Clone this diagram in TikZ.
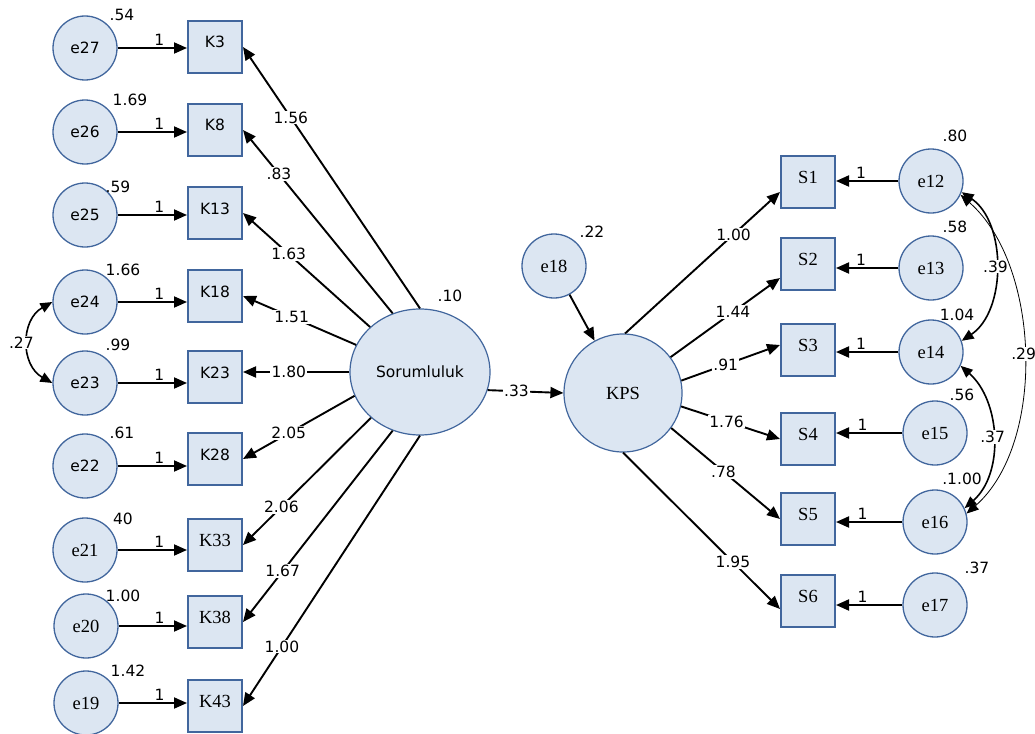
\documentclass[tikz,border=0pt]{standalone}
\usepackage{fontspec}
\setmainfont{DejaVu Sans}
\newfontfamily\tnr{Liberation Serif}
\usetikzlibrary{arrows.meta,shapes.geometric}
\newcommand\myfs{\fontsize{15.5}{18}\selectfont}
\newcommand\myserif{\fontsize{18.5}{21}\selectfont\tnr}
\definecolor{nfill}{HTML}{DCE6F2}
\definecolor{nborder}{HTML}{41669D}
\tikzset{
  errc/.style={circle, draw=nborder, fill=nfill, line width=1.3pt, minimum size=64pt, inner sep=0pt, font=\myfs},
  errs/.style={errc, font=\myserif},
  obox/.style={rectangle, draw=nborder, fill=nfill, line width=2pt, minimum width=54pt, minimum height=52pt, inner sep=0pt, text height=12pt, text depth=10pt, font=\myfs},
  sbox/.style={obox, font=\myserif},
  arr/.style={-{Triangle[length=13pt,width=11pt]}, line width=1.9pt, black},
  darr/.style={{Triangle[length=12pt,width=10pt]}-{Triangle[length=12pt,width=10pt]}, line width=1.6pt, black},
  lab/.style={fill=white, inner sep=1pt, font=\myfs},
  one/.style={above, inner sep=1.5pt, font=\myfs},
  var/.style={inner sep=0pt, font=\myfs}
}
\begin{document}
\begin{tikzpicture}[x=1pt,y=-1pt]
\useasboundingbox[fill=white] (0,0) rectangle (1035,733);
% left error terms
\node[errc] (e27) at (85,48) {e27};
\node[errc] (e26) at (85,132) {e26};
\node[errc] (e25) at (85,215) {e25};
\node[errc] (e24) at (85,302) {e24};
\node[errc] (e23) at (85,383) {e23};
\node[errc] (e22) at (85,466) {e22};
\node[errs] (e21) at (85,550) {e21};
\node[errs] (e20) at (86,626) {e20};
\node[errs] (e19) at (86,703) {e19};
% K boxes
\node[obox] (K3) at (215,47) {K3};
\node[obox] (K8) at (215,130) {K8};
\node[obox] (K13) at (215,213) {K13};
\node[obox] (K18) at (215,296) {K18};
\node[obox] (K23) at (215,377) {K23};
\node[obox] (K28) at (215,459) {K28};
\node[sbox] (K33) at (215,545) {K33};
\node[sbox] (K38) at (215,622) {K38};
\node[sbox] (K43) at (215,706) {K43};
% latent
\node[ellipse, draw=nborder, fill=nfill, line width=1.2pt, minimum width=140pt, minimum height=126pt, inner sep=0pt, font=\myfs] (Sor) at (420,372) {Sorumluluk};
\node[circle, draw=nborder, fill=nfill, line width=1.2pt, minimum size=118pt, inner sep=0pt, font=\myserif] (KPS) at (623,393) {KPS};
\node[errs] (e18) at (554,266) {e18};
% S boxes
\node[sbox] (S1) at (808,182) {S1};
\node[sbox] (S2) at (808,264) {S2};
\node[sbox] (S3) at (808,350) {S3};
\node[sbox] (S4) at (808,439) {S4};
\node[sbox] (S5) at (808,519) {S5};
\node[sbox] (S6) at (808,601) {S6};
% right errors
\node[errs] (e12) at (931,181) {e12};
\node[errs] (e13) at (931,268) {e13};
\node[errs] (e14) at (931,352) {e14};
\node[errs] (e15) at (935,433) {e15};
\node[errs] (e16) at (935,522) {e16};
\node[errs] (e17) at (935,605) {e17};
% variances
\node[var] (v27) at (122,15) {.54};
\node[var] (v26) at (130,100) {1.69};
\node[var] (v25) at (118,187) {.59};
\node[var] (v24) at (123,270) {1.66};
\node[var] (v23) at (118,345) {.99};
\node[var] (v22) at (122,433) {.61};
\node[var] (v21) at (123,519) {40};
\node[var] (v20) at (123,596) {1.00};
\node[var] (v19) at (128,671) {1.42};
\node[var] (vS) at (450,296) {.10};
\node[var] (v18) at (592,232) {.22};
\node[var] (v12) at (955,136) {.80};
\node[var] (v13) at (955,227) {.58};
\node[var] (v14) at (957,315) {1.04};
\node[var] (v15) at (962,395) {.56};
\node[var] (v16) at (962,479) {.1.00};
\node[var] (v17) at (977,568) {.37};
% error -> K
\draw[arr] (e27.east) -- node[one,pos=0.6]{1} (e27.east -| K3.west);
\draw[arr] (e26.east) -- node[one,pos=0.6]{1} (e26.east -| K8.west);
\draw[arr] (e25.east) -- node[one,pos=0.6]{1} (e25.east -| K13.west);
\draw[arr] (e24.east) -- node[one,pos=0.6]{1} (e24.east -| K18.west);
\draw[arr] (e23.east) -- node[one,pos=0.6]{1} (e23.east -| K23.west);
\draw[arr] (e22.east) -- node[one,pos=0.6]{1} (e22.east -| K28.west);
\draw[arr] (e21.east) -- node[one,pos=0.6]{1} (e21.east -| K33.west);
\draw[arr] (e20.east) -- node[one,pos=0.6]{1} (e20.east -| K38.west);
\draw[arr] (e19.east) -- node[one,pos=0.6]{1} (e19.east -| K43.west);
% Sorumluluk -> K
\draw[arr] (Sor.90) -- node[lab,pos=0.73]{1.56} (K3.east);
\draw[arr] (Sor.115) -- node[lab,pos=0.76]{.83} (K8.east);
\draw[arr] (Sor.138) -- node[lab,pos=0.64]{1.63} (K13.east);
\draw[arr] (Sor.157) -- node[lab,pos=0.57]{1.51} (K18.east);
\draw[arr] (Sor.west) -- node[lab,pos=0.57]{1.80} (Sor.west -| K23.east);
\draw[arr] (Sor.200) -- node[lab,pos=0.59]{2.05} (K28.east);
\draw[arr] (Sor.223) -- node[lab,pos=0.70]{2.06} (K33.east);
\draw[arr] (Sor.245) -- node[lab,pos=0.735]{1.67} (K38.east);
\draw[arr] (Sor.270) -- node[lab,pos=0.78]{1.00} (K43.east);
% structural
\draw[arr] (Sor.-15) -- node[lab,pos=0.38]{.33} (KPS.west);
\draw[arr] (e18) -- (KPS);
% KPS -> S
\draw[arr] (KPS.88) -- node[lab,pos=0.70]{1.00} ([yshift=-10pt]S1.west);
\draw[arr] (KPS.37) -- node[lab,pos=0.57]{1.44} ([yshift=-14pt]S2.west);
\draw[arr] (KPS.12) -- node[lab,pos=0.45]{.91} ([yshift=5pt]S3.west);
\draw[arr] (KPS.-13) -- node[lab,pos=0.46]{1.76} (S4.west);
\draw[arr] (KPS.-36) -- node[lab,pos=0.48]{.78} (S5.west);
\draw[arr] (KPS.-90) -- node[lab,pos=0.70]{1.95} ([yshift=-8pt]S6.west);
% error -> S
\draw[arr] (e12.west) -- node[one,pos=0.6]{1} (e12.west -| S1.east);
\draw[arr] (e13.west) -- node[one,pos=0.6]{1} (e13.west -| S2.east);
\draw[arr] (e14.west) -- node[one,pos=0.6]{1} (e14.west -| S3.east);
\draw[arr] (e15.west) -- node[one,pos=0.6]{1} (e15.west -| S4.east);
\draw[arr] (e16.west) -- node[one,pos=0.6]{1} (e16.west -| S5.east);
\draw[arr] (e17.west) -- node[one,pos=0.6]{1} (e17.west -| S6.east);
% covariances
\draw[darr] (e24.west) .. controls +(-32,18) and +(-32,-18) .. (e23.west) node[lab,pos=0.5,xshift=-7pt]{.27};
\draw[darr] (e12.-20) .. controls +(45,30) and +(45,-30) .. (e14.20) node[lab,pos=0.5]{.39};
\draw[darr] (e14.-25) .. controls +(40,35) and +(40,-35) .. (e16.25) node[lab,pos=0.5]{.37};
\draw[{Triangle[length=12pt,width=10pt]}-{Triangle[length=12pt,width=10pt]}, line width=0.8pt] (e12.-25) .. controls +(80,70) and +(80,-70) .. (e16.15) node[lab,pos=0.5]{.29};
\end{tikzpicture}
\end{document}
